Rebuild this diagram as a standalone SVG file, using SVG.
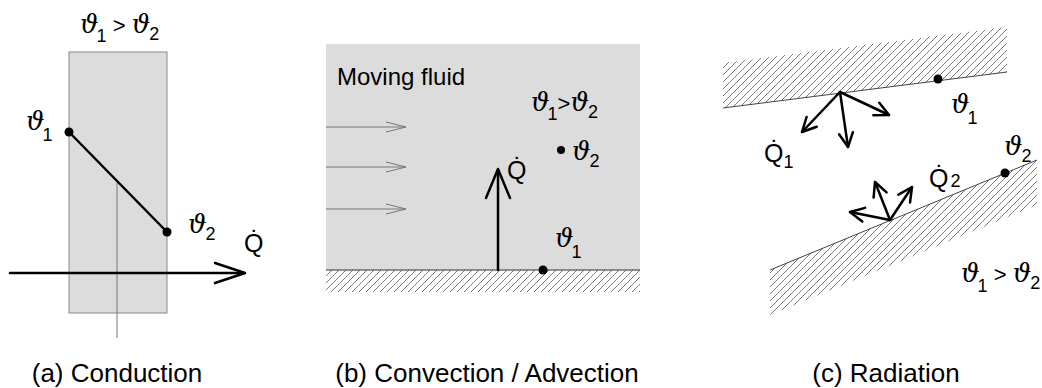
<svg xmlns="http://www.w3.org/2000/svg" width="1042" height="388" viewBox="0 0 1042 388">
<style>
.t{font-family:"Liberation Sans",Arial,sans-serif;fill:#000}
.th{font-family:"DejaVu Serif",serif;font-style:italic;font-size:26px}
.sub{font-family:"Liberation Sans",Arial,sans-serif;font-size:18px;font-style:normal}
.gt{font-family:"Liberation Sans",Arial,sans-serif;font-size:22px;font-style:normal}
.q{font-family:"Liberation Sans",Arial,sans-serif;font-size:25px}
.cap{font-family:"Liberation Sans",Arial,sans-serif;font-size:26px;text-anchor:middle}
.thick{stroke:#000;stroke-width:2.5;fill:none;stroke-linecap:round;stroke-linejoin:round}
.thin{stroke:#777;stroke-width:1;fill:none}
.wall{stroke:#444;stroke-width:1;fill:none}
</style>
<defs>
<pattern id="hatch" patternUnits="userSpaceOnUse" width="7" height="7">
<line x1="-1" y1="8" x2="8" y2="-1" stroke="#555" stroke-width="0.8"/>
</pattern>
</defs>

<g id="panel-a">
<rect x="69" y="52" width="98" height="261" fill="#dcdcdc" stroke="#888" stroke-width="1"/>
<line x1="117" y1="183" x2="117" y2="338" class="thin"/>
<line x1="69" y1="132" x2="167" y2="232" class="thick"/>
<circle cx="69" cy="132" r="4.5"/>
<circle cx="167" cy="232" r="4.5"/>
<text x="80" y="33" class="th">ϑ<tspan class="sub" dx="-2" dy="9">1</tspan><tspan dy="-9" class="gt"> &gt; </tspan>ϑ<tspan class="sub" dx="-1" dy="7">2</tspan></text>
<text x="26" y="130" class="th">ϑ<tspan class="sub" dx="-2" dy="11">1</tspan></text>
<text x="188" y="233" class="th">ϑ<tspan class="sub" dx="-1" dy="7">2</tspan></text>
<text x="244" y="252" class="q">Q̇</text>
</g>

<g id="panel-b">
<rect x="326" y="44" width="314" height="226" fill="#dcdcdc"/>
<rect x="326" y="270" width="314" height="22" fill="url(#hatch)"/>
<line x1="326" y1="270" x2="640" y2="270" stroke="#333" stroke-width="1"/>
<text x="337" y="85" class="t" font-size="24">Moving fluid</text>
<text x="531" y="111" class="th">ϑ<tspan class="sub" dx="-2" dy="9">1</tspan><tspan dy="-9" class="gt">&gt;</tspan>ϑ<tspan class="sub" dx="-1" dy="7">2</tspan></text>
<circle cx="561" cy="150" r="4"/>
<text x="572" y="160" class="th">ϑ<tspan class="sub" dx="-1" dy="7">2</tspan></text>
<circle cx="543" cy="270" r="4.5"/>
<text x="555" y="247" class="th">ϑ<tspan class="sub" dx="-2" dy="11">1</tspan></text>
<text x="507" y="179" class="q">Q̇</text>
</g>

<g id="panel-c">
<polygon points="723,108 1007,72 1007,27 723,63" fill="url(#hatch)"/>
<line x1="723" y1="108" x2="1007" y2="72" class="wall"/>
<polygon points="770,270 1037,160 1037,205 770,315" fill="url(#hatch)"/>
<line x1="770" y1="270" x2="1037" y2="160" class="wall"/>
<circle cx="938" cy="79" r="4.5"/>
<circle cx="1005" cy="173" r="4.5"/>
<text x="951" y="113" class="th">ϑ<tspan class="sub" dx="-2" dy="11">1</tspan></text>
<text x="1004" y="155" class="th">ϑ<tspan class="sub" dx="-1" dy="7">2</tspan></text>
<text x="764" y="162" class="q">Q̇<tspan class="sub" font-size="19px" dy="6">1</tspan></text>
<text x="929" y="187" class="q">Q̇<tspan class="sub" font-size="20px" dx="2">2</tspan></text>
<text x="961" y="282" class="th">ϑ<tspan class="sub" dx="-2" dy="10">1</tspan><tspan dy="-10" class="gt"> &gt; </tspan>ϑ<tspan class="sub" dx="-1" dy="7">2</tspan></text>
</g>

<g id="connectors">
<line x1="10" y1="273" x2="244" y2="273" class="thick"/>
<polyline points="215,263 245,273 215,283" class="thick"/>
<line x1="326" y1="127" x2="406" y2="127" class="thin"/>
<polyline points="386,122 406,127 386,132" class="thin"/>
<line x1="326" y1="167" x2="406" y2="167" class="thin"/>
<polyline points="386,162 406,167 386,172" class="thin"/>
<line x1="326" y1="209" x2="406" y2="209" class="thin"/>
<polyline points="386,204 406,209 386,214" class="thin"/>
<line x1="498" y1="270" x2="498" y2="170" class="thick"/>
<polyline points="486,198 498,169 510,198" class="thick"/>
<line x1="840" y1="92" x2="802" y2="132" class="thick"/>
<polyline points="806.6,117 802,132 816.7,126.7" class="thick"/>
<line x1="840" y1="92" x2="848" y2="147" class="thick"/>
<polyline points="839.1,134.2 848,147 852.9,132.2" class="thick"/>
<line x1="840" y1="92" x2="889" y2="115" class="thick"/>
<polyline points="873.4,115.3 889,115 879.3,102.7" class="thick"/>
<line x1="890" y1="220" x2="850" y2="212" class="thick"/>
<polyline points="865.1,207.9 850,212 862.3,221.6" class="thick"/>
<line x1="890" y1="220" x2="875" y2="182" class="thick"/>
<polyline points="886.6,192.4 875,182 873.6,197.6" class="thick"/>
<line x1="890" y1="220" x2="912" y2="187" class="thick"/>
<polyline points="910,202.5 912,187 898.4,194.7" class="thick"/>
</g>

<text x="117" y="382" class="cap">(a) Conduction</text>
<text x="487" y="382" class="cap">(b) Convection / Advection</text>
<text x="886" y="382" class="cap">(c) Radiation</text>
</svg>
